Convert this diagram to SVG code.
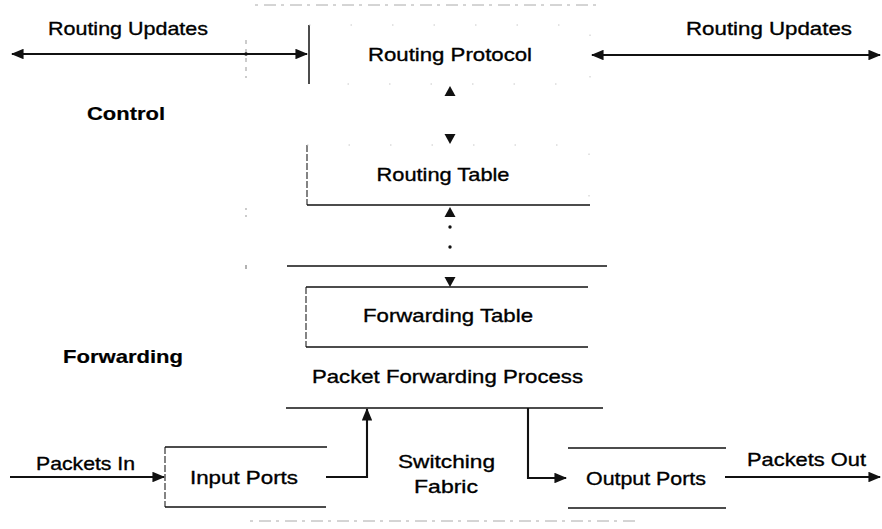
<svg xmlns="http://www.w3.org/2000/svg" width="882" height="529" viewBox="0 0 882 529">
  <style>
    text { font-family: "Liberation Sans", Arial, sans-serif; font-size: 19px; fill: #000; stroke: #000; stroke-width: 0.35; text-anchor: middle; }
    .bold { font-weight: bold; stroke-width: 0.2; }
    .edge { stroke: #111; stroke-width: 1.5; fill: none; }
    .side { stroke: #333; stroke-width: 1.2; fill: none; stroke-dasharray: 7 2; }
    .faint { stroke: #c8c8c8; stroke-width: 1; fill: none; stroke-dasharray: 1.5 40; }
    .trace { stroke: #aaa; stroke-width: 1; fill: none; stroke-dasharray: 3 6 12 5; }
    .wire { stroke: #111; stroke-width: 2.1; fill: none; }
    .head { fill: #111; }
  </style>
  <defs>
    <marker id="arrow" viewBox="0 0 12 10" refX="11" refY="5" markerWidth="6" markerHeight="5" orient="auto-start-reverse" markerUnits="strokeWidth">
      <path d="M0,0 L12,5 L0,10 Z" fill="#111"/>
    </marker>
  </defs>
  <rect width="882" height="529" fill="#fff"/>

  <!-- outline of the router enclosure (light dashes) -->
  <g id="enclosure">
    <line class="trace" x1="255" y1="5" x2="600" y2="5"/>
    <line class="trace" x1="250" y1="521" x2="640" y2="521"/>
    <line stroke="#999" stroke-width="1" stroke-dasharray="4 5" x1="246" y1="40" x2="246" y2="78"/>
    <line stroke="#aaa" stroke-width="1.2" stroke-dasharray="2 5" x1="246" y1="208" x2="246" y2="222"/>
    <line stroke="#999" stroke-width="1.5" x1="246" y1="265" x2="246" y2="269"/>
  </g>

  <!-- section labels -->
  <g id="label-control"><text class="bold" x="126" y="120" textLength="78" lengthAdjust="spacingAndGlyphs">Control</text></g>
  <g id="label-forwarding"><text class="bold" x="123" y="363" textLength="120" lengthAdjust="spacingAndGlyphs">Forwarding</text></g>

  <g id="routing-protocol">
    <line class="edge" x1="309" y1="25" x2="309" y2="84"/>
    <path class="faint" d="M309,25 H590 V84 H309"/>
    <text x="450" y="61" textLength="164" lengthAdjust="spacingAndGlyphs">Routing Protocol</text>
  </g>

  <g id="routing-table">
    <line class="side" x1="307" y1="145" x2="307" y2="205"/>
    <line class="edge" x1="307" y1="205" x2="590" y2="205"/>
    <path class="faint" d="M307,145 H589 V205"/>
    <text x="443" y="181" textLength="133" lengthAdjust="spacingAndGlyphs">Routing Table</text>
  </g>

  <!-- boundary between control and forwarding planes -->
  <g id="plane-divider">
    <line class="edge" x1="287" y1="266" x2="607" y2="266"/>
  </g>

  <g id="forwarding-table">
    <line class="side" x1="306" y1="287" x2="306" y2="347"/>
    <line class="edge" x1="306" y1="287" x2="588" y2="287"/>
    <line class="edge" x1="306" y1="347" x2="588" y2="347"/>
    <text x="448" y="322" textLength="170" lengthAdjust="spacingAndGlyphs">Forwarding Table</text>
  </g>

  <g id="packet-forwarding-process">
    <line class="edge" x1="286" y1="408" x2="603" y2="408"/>
    <text x="447.5" y="383" textLength="271" lengthAdjust="spacingAndGlyphs">Packet Forwarding Process</text>
  </g>

  <g id="input-ports">
    <line class="side" x1="165" y1="447" x2="165" y2="507"/>
    <line class="edge" x1="165" y1="447" x2="327" y2="447"/>
    <line class="edge" x1="165" y1="507" x2="326" y2="507"/>
    <text x="244" y="484" textLength="108" lengthAdjust="spacingAndGlyphs">Input Ports</text>
  </g>

  <g id="switching-fabric">
    <text x="446.5" y="468" textLength="97" lengthAdjust="spacingAndGlyphs">Switching</text>
    <text x="446" y="493" textLength="64" lengthAdjust="spacingAndGlyphs">Fabric</text>
  </g>

  <g id="output-ports">
    <line class="edge" x1="568" y1="448" x2="726" y2="448"/>
    <line class="edge" x1="568" y1="508" x2="726" y2="508"/>
    <text x="646" y="485" textLength="120" lengthAdjust="spacingAndGlyphs">Output Ports</text>
  </g>

  <g id="edge-labels">
    <text x="128" y="35" textLength="160" lengthAdjust="spacingAndGlyphs">Routing Updates</text>
    <text x="769" y="35" textLength="166" lengthAdjust="spacingAndGlyphs">Routing Updates</text>
    <text x="85.5" y="470" textLength="99" lengthAdjust="spacingAndGlyphs">Packets In</text>
    <text x="806.5" y="466" textLength="119" lengthAdjust="spacingAndGlyphs">Packets Out</text>
  </g>

  <g id="connectors">
    <!-- routing updates exchanged with neighbours -->
    <line class="wire" x1="12" y1="54" x2="307" y2="54" marker-start="url(#arrow)" marker-end="url(#arrow)"/>
    <circle class="head" cx="246" cy="54" r="1.8"/>
    <line class="wire" x1="592" y1="55" x2="880" y2="55" marker-start="url(#arrow)" marker-end="url(#arrow)"/>
    <!-- protocol <-> routing table -->
    <path class="head" d="M450,86 L455.5,96 L444.5,96 Z"/>
    <path class="head" d="M450,144 L455.5,134 L444.5,134 Z"/>
    <!-- routing table -> forwarding table -->
    <path class="head" d="M450,207 L455.5,217 L444.5,217 Z"/>
    <circle class="head" cx="450" cy="227" r="1.7"/>
    <circle class="head" cx="450" cy="247" r="1.7"/>
    <path class="head" d="M450,287 L455.5,277 L444.5,277 Z"/>
    <!-- packet path -->
    <line class="wire" x1="10" y1="477" x2="164" y2="477" marker-end="url(#arrow)"/>
    <polyline class="wire" points="326,477 367,477 367,409" marker-end="url(#arrow)"/>
    <polyline class="wire" points="528,408 528,478 566,478" marker-end="url(#arrow)"/>
    <line class="wire" x1="725" y1="477" x2="880" y2="477" marker-end="url(#arrow)"/>
  </g>
</svg>
